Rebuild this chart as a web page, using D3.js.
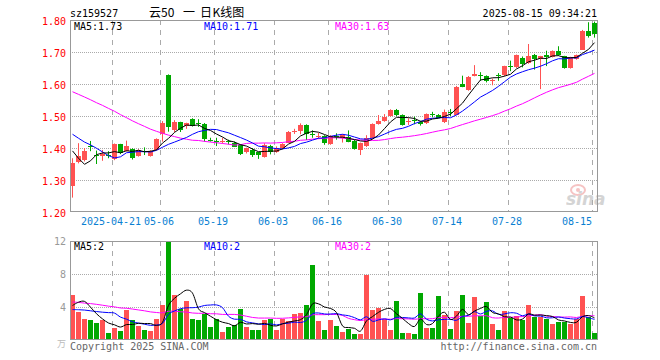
<!DOCTYPE html>
<html>
<head>
<meta charset="utf-8">
<script src="https://cdn.jsdelivr.net/npm/d3@7"></script>
<style>
  body { margin: 0; background: #fff; }
  svg { display: block; }
  text { font-family: "DejaVu Sans Mono", monospace; font-size: 10px; }
</style>
</head>
<body>
<div id="chart"></div>
<script>
// trading days shown (2025-04-10 .. 2025-08-15)
const dates = [
  "04-10","04-11","04-14","04-15","04-16","04-17","04-18","04-21","04-22","04-23","04-24","04-25","04-28","04-29","04-30",
  "05-06","05-07","05-08","05-09","05-12","05-13","05-14","05-15","05-16","05-19","05-20","05-21","05-22","05-23",
  "05-26","05-27","05-28","05-29","05-30",
  "06-03","06-04","06-05","06-06","06-09","06-10","06-11","06-12","06-13","06-16","06-17","06-18","06-19","06-20",
  "06-23","06-24","06-25","06-26","06-27","06-30",
  "07-01","07-02","07-03","07-04","07-07","07-08","07-09","07-10","07-11","07-14","07-15","07-16","07-17","07-18",
  "07-21","07-22","07-23","07-24","07-25","07-28","07-29","07-30","07-31",
  "08-01","08-04","08-05","08-06","08-07","08-08","08-11","08-12","08-13","08-14","08-15"
];

const open = [
  1.282,1.357,1.362,1.405,1.377,1.373,1.379,1.365,1.412,1.391,
  1.397,1.375,1.390,1.375,1.394,1.444,1.628,1.456,1.480,1.467,
  1.490,1.478,1.475,1.426,1.423,1.421,1.421,1.417,1.410,1.385,
  1.394,1.386,1.373,1.406,1.388,1.399,1.418,1.450,1.453,1.472,
  1.443,1.436,1.438,1.413,1.439,1.430,1.435,1.423,1.394,1.406,
  1.430,1.475,1.484,1.500,1.519,1.503,1.481,1.486,1.482,1.477,
  1.507,1.504,1.480,1.512,1.506,1.600,1.581,1.626,1.627,1.624,
  1.609,1.627,1.626,1.656,1.652,1.680,1.665,1.692,1.676,1.690,
  1.685,1.702,1.686,1.650,1.678,1.709,1.767,1.790
];
const close = [
  1.354,1.375,1.391,1.402,1.374,1.380,1.376,1.412,1.383,1.406,
  1.370,1.394,1.388,1.391,1.427,1.477,1.467,1.482,1.456,1.477,
  1.469,1.476,1.428,1.424,1.421,1.423,1.419,1.406,1.383,1.399,
  1.378,1.376,1.410,1.388,1.400,1.412,1.451,1.453,1.472,1.443,
  1.441,1.438,1.417,1.437,1.437,1.440,1.420,1.398,1.415,1.430,
  1.475,1.485,1.498,1.519,1.503,1.472,1.483,1.484,1.475,1.506,
  1.505,1.496,1.511,1.510,1.592,1.592,1.623,1.631,1.625,1.607,
  1.611,1.625,1.655,1.654,1.690,1.662,1.686,1.680,1.686,1.684,
  1.703,1.690,1.650,1.683,1.690,1.767,1.751,1.755
];
const high = [
  1.368,1.415,1.400,1.422,1.392,1.394,1.390,1.414,1.413,1.423,
  1.399,1.396,1.402,1.393,1.430,1.484,1.630,1.487,1.482,1.479,
  1.493,1.490,1.478,1.432,1.432,1.432,1.426,1.420,1.412,1.401,
  1.400,1.388,1.415,1.410,1.405,1.415,1.453,1.460,1.477,1.474,
  1.455,1.447,1.440,1.440,1.446,1.443,1.455,1.425,1.417,1.440,
  1.477,1.503,1.506,1.521,1.522,1.505,1.493,1.498,1.485,1.508,
  1.513,1.506,1.520,1.522,1.594,1.626,1.625,1.659,1.637,1.627,
  1.617,1.634,1.657,1.673,1.692,1.686,1.725,1.694,1.688,1.704,
  1.705,1.718,1.688,1.685,1.692,1.769,1.793,1.795
];
const low = [
  1.245,1.352,1.358,1.390,1.350,1.360,1.368,1.362,1.381,1.389,
  1.364,1.373,1.378,1.373,1.392,1.420,1.451,1.450,1.450,1.460,
  1.467,1.466,1.420,1.420,1.406,1.414,1.411,1.404,1.378,1.383,
  1.372,1.366,1.370,1.380,1.385,1.397,1.416,1.444,1.443,1.425,
  1.432,1.428,1.410,1.410,1.426,1.417,1.418,1.395,1.378,1.403,
  1.428,1.473,1.482,1.498,1.500,1.470,1.472,1.474,1.470,1.475,
  1.496,1.494,1.478,1.500,1.504,1.590,1.579,1.624,1.610,1.605,
  1.596,1.610,1.624,1.640,1.650,1.652,1.663,1.645,1.584,1.656,
  1.683,1.688,1.648,1.648,1.676,1.707,1.745,1.745
];
// volume, in 万手
const volume = [
  5.5,3.4,2.5,2.4,2.1,2.4,0.9,1.4,1.05,3.6,
  2.4,1.7,1.2,1.05,2.5,4.3,11.9,5.5,3.8,4.7,
  2.5,2.4,3.2,1.6,2.6,0.97,1.6,1.85,3.7,1.6,
  1.2,1.2,2.4,2.5,1.2,2.5,2.25,3.1,3.3,4.2,
  9.05,2.25,1.2,2.4,1.7,0.97,1.3,0.73,0.7,7.85,
  3.6,3.9,2.5,1.2,4.7,0.8,0.8,0.7,5.7,1.4,
  1.4,5.3,3.0,1.3,3.5,5.45,2.1,5.2,2.9,4.6,
  1.9,1.2,3.5,2.7,2.9,2.4,4.25,2.8,2.8,2.5,
  1.9,2.15,2.2,1.9,2.6,5.3,2.8,0.8
];

// the 29 sessions before the window, only needed to warm up the moving averages
const priorClose = [
  1.62,1.64,1.66,1.65,1.63,1.66,1.68,1.70,1.69,1.67,1.66,1.64,1.65,1.63,1.66,
  1.64,1.62,1.60,1.58,1.564,
  1.50,1.51,1.49,1.48,1.495,
  1.49,1.486,1.347,1.278
];
const priorVolume = [
  4.5,5.2,4.1,4.8,5.6,4.3,4.0,5.1,4.6,5.3,4.9,4.4,5.0,4.7,5.3,
  6.2,5.4,6.0,5.8,5.8,
  3.6,2.9,3.3,3.0,3.2,
  1.4,2.0,5.9,6.1
];

const tickDates = ["04-21","05-06","05-19","06-03","06-16","06-30","07-14","07-28","08-15"];
const tickLabels = ["2025-04-21","05-06","05-19","06-03","06-16","06-30","07-14","07-28","08-15"];
const priceTicks = [1.20, 1.30, 1.40, 1.50, 1.60, 1.70, 1.80];
const volTicks = [4, 8, 12];

const UP = "#ff5252", DOWN = "#00a800";
const maColors = { 5: "#000000", 10: "#0000ff", 30: "#ff00ff" };

function movingAverage(prior, values, n) {
  const all = prior.concat(values);
  const off = prior.length;
  return values.map((_, i) => d3.mean(all.slice(off + i - n + 1, off + i + 1)));
}

function drawChart() {
  const width = 660, height = 360;
  const left = 70, right = 598;
  const n = dates.length;

  const svg = d3.select("#chart").append("svg")
    .attr("width", width)
    .attr("height", height);

  // one slot of 6px per session, body 5px wide
  const x = d3.scaleLinear().domain([0, n]).range([left, right]);
  const cx = i => Math.round(x(i)) + 2.5;

  const y = d3.scaleLinear().domain([1.2, 1.8]).range([212, 20]);
  const yv = d3.scaleLinear().domain([0, 12]).range([340, 241]);

  const tickIdx = tickDates.map(d => dates.indexOf(d));

  // header
  svg.append("text").attr("x", 70).attr("y", 17).text("sz159527");
  const title = svg.append("text").attr("y", 17)
    .style("font-family", "'Noto Sans CJK SC', sans-serif").style("font-size", "12px");
  title.append("tspan").attr("x", 149).text("云50");
  title.append("tspan").attr("x", 183).text("一");
  title.append("tspan").attr("x", 200).text("日");
  title.append("tspan").attr("x", 212.5).text("K线图");
  svg.append("text").attr("x", 597).attr("y", 17).attr("text-anchor", "end")
    .text("2025-08-15 09:34:21");

  // ---- price panel ----
  const grid = svg.append("g").attr("stroke", "#aaa").attr("stroke-width", 1);
  grid.selectAll(".hg")
    .data(priceTicks.filter(t => t > 1.2 && t < 1.8))
    .enter().append("line")
    .attr("x1", left).attr("x2", right)
    .attr("y1", d => Math.round(y(d)) + 0.5).attr("y2", d => Math.round(y(d)) + 0.5)
    .attr("stroke-dasharray", "1,1");
  grid.selectAll(".vg")
    .data(tickIdx)
    .enter().append("line")
    .attr("x1", i => Math.round(x(i)) + 0.5).attr("x2", i => Math.round(x(i)) + 0.5)
    .attr("y1", 20).attr("y2", 212)
    .attr("stroke-dasharray", "5,5");

  svg.append("g").selectAll("text")
    .data(priceTicks)
    .enter().append("text")
    .attr("x", 66).attr("y", d => y(d) + 4.5)
    .attr("text-anchor", "end")
    .attr("fill", "#f00")
    .text(d => d.toFixed(2));

  // sina watermark
  const wm = svg.append("g").attr("opacity", 0.5);
  wm.append("ellipse").attr("cx", 578).attr("cy", 190).attr("rx", 7).attr("ry", 5)
    .attr("fill", "none").attr("stroke", "#e88").attr("stroke-width", 2);
  wm.append("circle").attr("cx", 578).attr("cy", 190).attr("r", 2).attr("fill", "#e88");
  wm.append("text").attr("x", 566).attr("y", 205)
    .style("font-family", "'DejaVu Sans', sans-serif").style("font-size", "17px")
    .style("font-weight", "bold").style("font-style", "italic")
    .attr("fill", "#aaa").text("sina");

  // candles
  const candles = svg.append("g").selectAll("g")
    .data(d3.range(n))
    .enter().append("g");

  candles.append("line")
    .attr("x1", cx).attr("x2", cx)
    .attr("y1", i => y(high[i])).attr("y2", i => y(low[i]))
    .attr("stroke", i => close[i] >= open[i] ? UP : DOWN);

  candles.append("rect")
    .attr("x", i => Math.round(x(i)))
    .attr("width", 5)
    .attr("y", i => Math.round(y(Math.max(open[i], close[i]))))
    .attr("height", i => Math.max(1, Math.round(Math.abs(y(open[i]) - y(close[i])))))
    .attr("fill", i => close[i] >= open[i] ? UP : DOWN);

  // moving averages of close
  const priceLine = d3.line().x((d, i) => cx(i)).y(d => y(d));
  const maVals = {};
  [30, 10, 5].forEach(p => {
    maVals[p] = movingAverage(priorClose, close, p);
    svg.append("path")
      .attr("d", priceLine(maVals[p]))
      .attr("fill", "none")
      .attr("stroke", maColors[p])
      .attr("stroke-width", 1);
  });

  svg.append("rect")
    .attr("x", 70.5).attr("y", 20.5).attr("width", 527).attr("height", 191)
    .attr("fill", "none").attr("stroke", "#999");

  const maLabelX = { 5: 74, 10: 204, 30: 335 };
  [5, 10, 30].forEach(p => {
    svg.append("text").attr("x", maLabelX[p]).attr("y", 30)
      .attr("fill", maColors[p])
      .text(`MA${p}:${maVals[p][n - 1].toFixed(2)}`);
  });

  // date labels
  svg.append("g").selectAll("text")
    .data(tickIdx)
    .enter().append("text")
    .attr("x", (i, k) => k === tickIdx.length - 1 ? Math.round(x(i)) : Math.round(x(i)) - 1)
    .attr("y", 225)
    .attr("text-anchor", (i, k) => k === tickIdx.length - 1 ? "end" : "middle")
    .attr("fill", "#0a7fd2")
    .text((i, k) => tickLabels[k]);

  // ---- volume panel ----
  const vgrid = svg.append("g").attr("stroke", "#aaa");
  vgrid.selectAll(".hg")
    .data(volTicks.filter(t => t < 12))
    .enter().append("line")
    .attr("x1", left).attr("x2", right)
    .attr("y1", d => Math.round(yv(d)) + 0.5).attr("y2", d => Math.round(yv(d)) + 0.5)
    .attr("stroke-dasharray", "1,1");
  vgrid.selectAll(".vg")
    .data(tickIdx)
    .enter().append("line")
    .attr("x1", i => Math.round(x(i)) + 0.5).attr("x2", i => Math.round(x(i)) + 0.5)
    .attr("y1", 241).attr("y2", 340)
    .attr("stroke-dasharray", "5,5");

  svg.append("g").selectAll("text")
    .data(volTicks)
    .enter().append("text")
    .attr("x", 66).attr("y", d => yv(d) + 4)
    .attr("text-anchor", "end")
    .attr("fill", "#999")
    .text(d => d);

  svg.append("g").selectAll("rect")
    .data(d3.range(n))
    .enter().append("rect")
    .attr("x", i => Math.round(x(i)))
    .attr("width", 5)
    .attr("y", i => Math.round(yv(volume[i])))
    .attr("height", i => 340 - Math.round(yv(volume[i])))
    .attr("fill", i => close[i] >= open[i] ? UP : DOWN);

  const volLine = d3.line().x((d, i) => cx(i)).y(d => yv(d)).curve(d3.curveCardinal);
  const vmaVals = {};
  [30, 10, 5].forEach(p => {
    vmaVals[p] = movingAverage(priorVolume, volume, p);
    svg.append("path")
      .attr("d", volLine(vmaVals[p]))
      .attr("fill", "none")
      .attr("stroke", maColors[p])
      .attr("stroke-width", 1);
  });

  svg.append("rect")
    .attr("x", 70.5).attr("y", 241.5).attr("width", 527).attr("height", 98)
    .attr("fill", "none").attr("stroke", "#999");

  [5, 10, 30].forEach(p => {
    svg.append("text").attr("x", maLabelX[p]).attr("y", 250)
      .attr("fill", maColors[p])
      .text(`MA${p}:${Math.floor(vmaVals[p][n - 1])}`);
  });

  svg.append("text").attr("x", 57).attr("y", 347)
    .style("font-family", "'Noto Sans CJK SC', sans-serif").style("font-size", "9px")
    .attr("fill", "#bbb").text("万");

  // footer
  svg.append("text").attr("x", 70).attr("y", 350).attr("fill", "#666")
    .text("Copyright 2025 SINA.COM");
  svg.append("text").attr("x", 597).attr("y", 350).attr("text-anchor", "end").attr("fill", "#666")
    .text("http://finance.sina.com.cn");
}

drawChart();
</script>
</body>
</html>
